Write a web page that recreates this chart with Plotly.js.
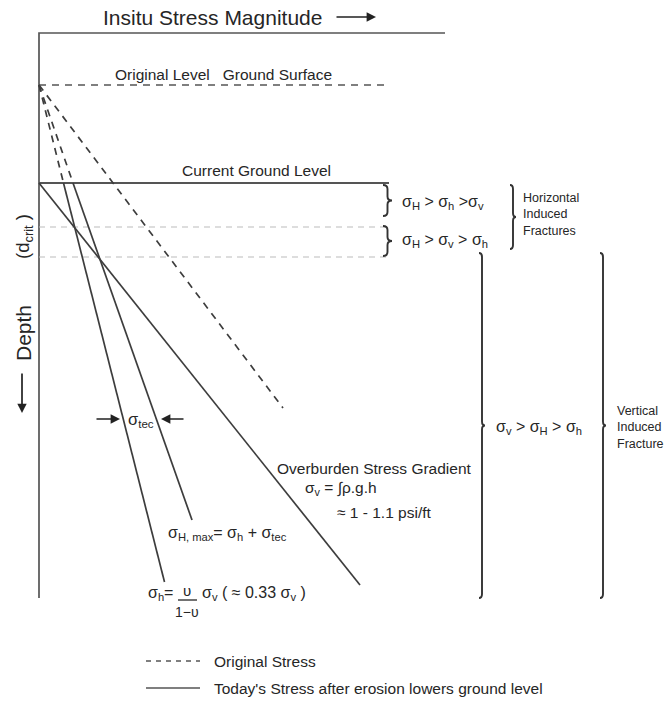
<!DOCTYPE html>
<html>
<head>
<meta charset="utf-8">
<script src="https://cdn.plot.ly/plotly-3.0.1.min.js"></script>
<style>html,body{margin:0;padding:0;background:#fff}#chart{width:670px;height:705px}</style>
</head>
<body>
<div id="chart"></div>
<script>
// ---- Data (schematic units: stress → x, depth → y, both) ----
const levelNames   = ["Original ground surface", "Current ground level", "d_crit top", "d_crit bottom"];
const levelDepths  = [0, 98, 142, 172];

// Original stress profiles (dashed) – start at original ground surface
const origNames     = ["σh original", "σH original", "σv original"];
const origDepthTop  = [0, 0, 0];
const origDepthBot  = [98, 98, 323];
const origStressTop = [0, 0, 0];
const origStressBot = [24.5, 34, 244];

// Today's stress profiles (solid) – after erosion lowers ground level
const todayNames     = ["σh today", "σH,max today", "σv today (overburden)"];
const todayDepthTop  = [98, 98, 98];
const todayDepthBot  = [497, 435, 500];
const todayStressTop = [24.5, 34, 0];
const todayStressBot = [125.5, 153, 321];

const surfaceLineEnd = 348;   // horizontal extent of reference levels (stress units)
const frameTop = -52, frameBottom = 513, frameRight = 406;

const ink = "#3d3d3d", txt = "#262626", font = "Liberation Sans, Arial, sans-serif";

const traces = [];
// Frame (top and left axes lines)
traces.push({x:[frameRight,0,0], y:[frameTop,frameTop,frameBottom], mode:"lines",
  line:{color:"#555", width:1.7}, hoverinfo:"skip"});
// Reference levels
levelDepths.forEach((d,i)=>{
  let style;
  if (i===0) style={color:"#555", width:1.7, dash:"7px,6px"};
  else if (i===1) style={color:"#555", width:1.9};
  else style={color:"#bbb", width:1.2, dash:"6px,5px"};
  traces.push({x:[0, i===1?surfaceLineEnd+2:surfaceLineEnd], y:[d,d], mode:"lines", name:levelNames[i], line:style, hoverinfo:"skip"});
});
// Original (dashed) stress lines
origNames.forEach((n,i)=>{
  traces.push({x:[origStressTop[i],origStressBot[i]], y:[origDepthTop[i],origDepthBot[i]], mode:"lines", name:n,
    line:{color:ink, width:1.7, dash:"7px,6px"}, hoverinfo:"skip"});
});
// Today's (solid) stress lines
todayNames.forEach((n,i)=>{
  traces.push({x:[todayStressTop[i],todayStressBot[i]], y:[todayDepthTop[i],todayDepthBot[i]], mode:"lines", name:n,
    line:{color:ink, width:1.7}, hoverinfo:"skip"});
});

// Curly brace path generator (points right)
function brace(x0, yTop, yBot, w){
  const r = Math.min(4, (yBot-yTop)/6), ym=(yTop+yBot)/2, xm=x0+w/2;
  return `M ${x0},${yTop} Q ${xm},${yTop} ${xm},${yTop+r} L ${xm},${ym-r} Q ${xm},${ym} ${x0+w},${ym} `+
         `Q ${xm},${ym} ${xm},${ym+r} L ${xm},${yBot-r} Q ${xm},${yBot} ${x0},${yBot}`;
}
const shapes = [
  {type:"path", xref:"x", yref:"y", path:brace(344,100,131,9), line:{color:"#333",width:1.9}},
  {type:"path", xref:"x", yref:"y", path:brace(344,141,171,9), line:{color:"#333",width:1.9}},
  {type:"path", xref:"x", yref:"y", path:brace(471,100,164,6), line:{color:"#333",width:1.9}},
  {type:"path", xref:"x", yref:"y", path:brace(440,168,513,6), line:{color:"#333",width:1.9}},
  {type:"path", xref:"x", yref:"y", path:brace(561,168,513,6), line:{color:"#333",width:1.9}},
  // fraction bar for ν/(1-ν)
  {type:"line", xref:"x", yref:"y", x0:139, x1:158, y0:515, y1:515, line:{color:txt,width:1.3}},
  // legend samples
  {type:"line", xref:"x", yref:"y", x0:107, x1:161, y0:576, y1:576, line:{color:"#555",width:1.5,dash:"5px,5px"}},
  {type:"line", xref:"x", yref:"y", x0:107, x1:161, y0:603, y1:603, line:{color:"#555",width:1.5}}
];

function t(text,x,y,size,opts){
  return Object.assign({text:text, x:x, y:y, xref:"x", yref:"y", showarrow:false, xanchor:"left", yanchor:"middle",
    font:{family:font, size:size, color:txt}}, opts||{});
}
function arrow(x,y,ax,ay){
  return {text:"", x:x, y:y, ax:ax, ay:ay, xref:"x", yref:"y", axref:"x", ayref:"y", showarrow:true,
    arrowhead:2, arrowsize:1.1, arrowwidth:1.7, arrowcolor:"#222"};
}
const annotations = [
  t("Insitu Stress Magnitude",173,-68,21,{xanchor:"center"}),
  arrow(337,-68,296,-68),
  t("Original Level   Ground Surface",74,-11,15.5),
  t("Current Ground Level",141,85,15.5),
  t("σ<sub>H</sub> > σ<sub>h</sub> >σ<sub>v</sub>",361,117,16),
  t("σ<sub>H</sub> > σ<sub>v</sub> > σ<sub>h</sub>",361,155,16),
  t("Horizontal<br>Induced<br>Fractures",482,129,12.5,{align:"left"}),
  t("σ<sub>v</sub> > σ<sub>H</sub> > σ<sub>h</sub>",455,342,16),
  t("Vertical<br>Induced<br>Fracture",576,342,12.5,{align:"left"}),
  t("(d<sub>crit</sub> )",-15,152,18.5,{xanchor:"center",textangle:-90}),
  t("Depth",-16,248,21,{xanchor:"center",textangle:-90}),
  arrow(-17,328,-17,287),
  t("σ<sub>tec</sub>",102,335,16.5,{xanchor:"center"}),
  arrow(81,334,56,334),
  arrow(122,334,146,334),
  t("Overburden Stress Gradient",236,383,15.5),
  t("σ<sub>v</sub> = ∫ρ.g.h",264,403,15.5),
  t("≈ 1 - 1.1 psi/ft",296,427,15.5),
  t("σ<sub>H, max</sub>= σ<sub>h</sub> + σ<sub>tec</sub>",127,448,16),
  t("σ<sub>h</sub>=",107,508,16),
  t("υ",148,505,15,{xanchor:"center"}),
  t("1−υ",148,527,14,{xanchor:"center"}),
  t("σ<sub>v</sub> ( ≈ 0.33 σ<sub>v</sub> )",161,508,16),
  t("Original Stress",173,576,15.5),
  t("Today's Stress after erosion lowers ground level",173,603,15.5)
];

const layout = {
  width:670, height:705, margin:{l:0,r:0,t:0,b:0}, showlegend:false,
  paper_bgcolor:"#fff", plot_bgcolor:"#fff",
  xaxis:{range:[-39,631], visible:false, fixedrange:true},
  yaxis:{range:[620,-85], visible:false, fixedrange:true},
  shapes:shapes, annotations:annotations
};
Plotly.newPlot("chart", traces, layout, {staticPlot:true});
</script>
</body>
</html>
